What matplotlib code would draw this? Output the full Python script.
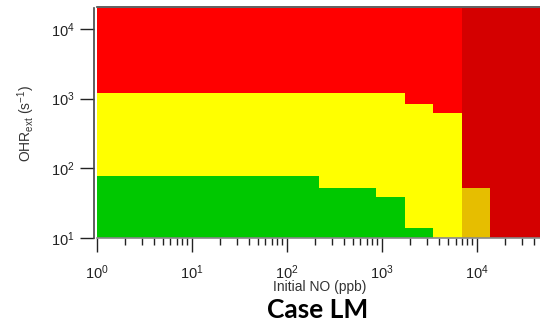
import matplotlib
matplotlib.use("Agg")
import matplotlib.pyplot as plt
from matplotlib.ticker import LogLocator, NullLocator

plt.rcParams["mathtext.fontset"] = "custom"
plt.rcParams["mathtext.rm"] = "Liberation Sans"
plt.rcParams["mathtext.it"] = "Liberation Sans:italic"
plt.rcParams["mathtext.bf"] = "Liberation Sans:bold"
plt.rcParams["mathtext.sf"] = "Liberation Sans"
plt.rcParams["font.family"] = ["Liberation Sans", "DejaVu Sans"]

# column edges in initial NO (ppb)
no_edges = [1, 220, 880, 1760, 3500, 7000, 14000, 50000]
# per-column regime boundaries in OHR_ext (s^-1)
green_top = [77, 53, 39, 14, 10, 10, 10]       # green from 10 up to this
yellow_top = [1200, 1200, 1200, 850, 620, 10, 10]  # yellow up to this, red above
gold_top = [10, 10, 10, 10, 10, 53, 10]        # gold (high NO) from 10 up to this
darkred_cols = [False, False, False, False, False, True, True]

y_min, y_max = 10, 2e4
x_min, x_max = 1, 5e4

c_green = "#00C800"
c_yellow = "#FFFF00"
c_red = "#FF0000"
c_darkred = "#D40000"
c_gold = "#E6BE00"

fig = plt.figure(figsize=(5.4, 3.28), dpi=100)
ax = fig.add_axes([96.5/540, 1-238/328, (543-96.5)/540, (238-8)/328])
ax.set_xscale("log")
ax.set_yscale("log")

for i in range(len(no_edges)-1):
    left = no_edges[i]
    w = no_edges[i+1] - no_edges[i]
    if darkred_cols[i]:
        ax.bar(left, y_max - gold_top[i], bottom=gold_top[i], width=w, align="edge",
               color=c_darkred, linewidth=0)
        if gold_top[i] > y_min:
            ax.bar(left, gold_top[i] - y_min, bottom=y_min, width=w, align="edge",
                   color=c_gold, linewidth=0)
    else:
        if green_top[i] > y_min:
            ax.bar(left, green_top[i] - y_min, bottom=y_min, width=w, align="edge",
                   color=c_green, linewidth=0)
        ax.bar(left, yellow_top[i] - green_top[i], bottom=green_top[i], width=w,
               align="edge", color=c_yellow, linewidth=0)
        ax.bar(left, y_max - yellow_top[i], bottom=yellow_top[i], width=w,
               align="edge", color=c_red, linewidth=0)

ax.set_xlim(x_min, x_max)
ax.set_ylim(y_min, y_max)

ax.xaxis.set_major_locator(LogLocator(base=10, numticks=10))
ax.xaxis.set_minor_locator(LogLocator(base=10, subs=range(2, 10), numticks=20))
ax.yaxis.set_major_locator(LogLocator(base=10, numticks=10))
ax.yaxis.set_minor_locator(NullLocator())

ax.tick_params(axis="x", which="major", length=10, width=1, pad=8, labelsize=10.5,
               color="#222222", labelcolor="#222222")
ax.tick_params(axis="x", which="minor", length=5, width=1, color="#222222")
ax.tick_params(axis="y", which="major", length=10, width=1, pad=4, labelsize=10.5,
               color="#222222", labelcolor="#222222")

for s in ["left", "top", "bottom"]:
    ax.spines[s].set_color("#444444")
    ax.spines[s].set_linewidth(1.2)
ax.spines["left"].set_position(("outward", 2))
ax.spines["top"].set_position(("outward", 1))
ax.spines["bottom"].set_color("#888888")
ax.spines["right"].set_visible(False)

ax.set_xlabel("Initial NO (ppb)", fontsize=10, labelpad=-1, color="#333333")
ax.set_ylabel(r"OHR$_{\mathregular{ext}}$ (s$^{\mathregular{-1}}$)", fontsize=10,
              labelpad=10, color="#333333")

fig.text(318/540, 1-310/328, "Case LM", ha="center", va="center", fontsize=19,
         fontweight="bold", family="Lato")

fig.savefig("out.png", dpi=100)
